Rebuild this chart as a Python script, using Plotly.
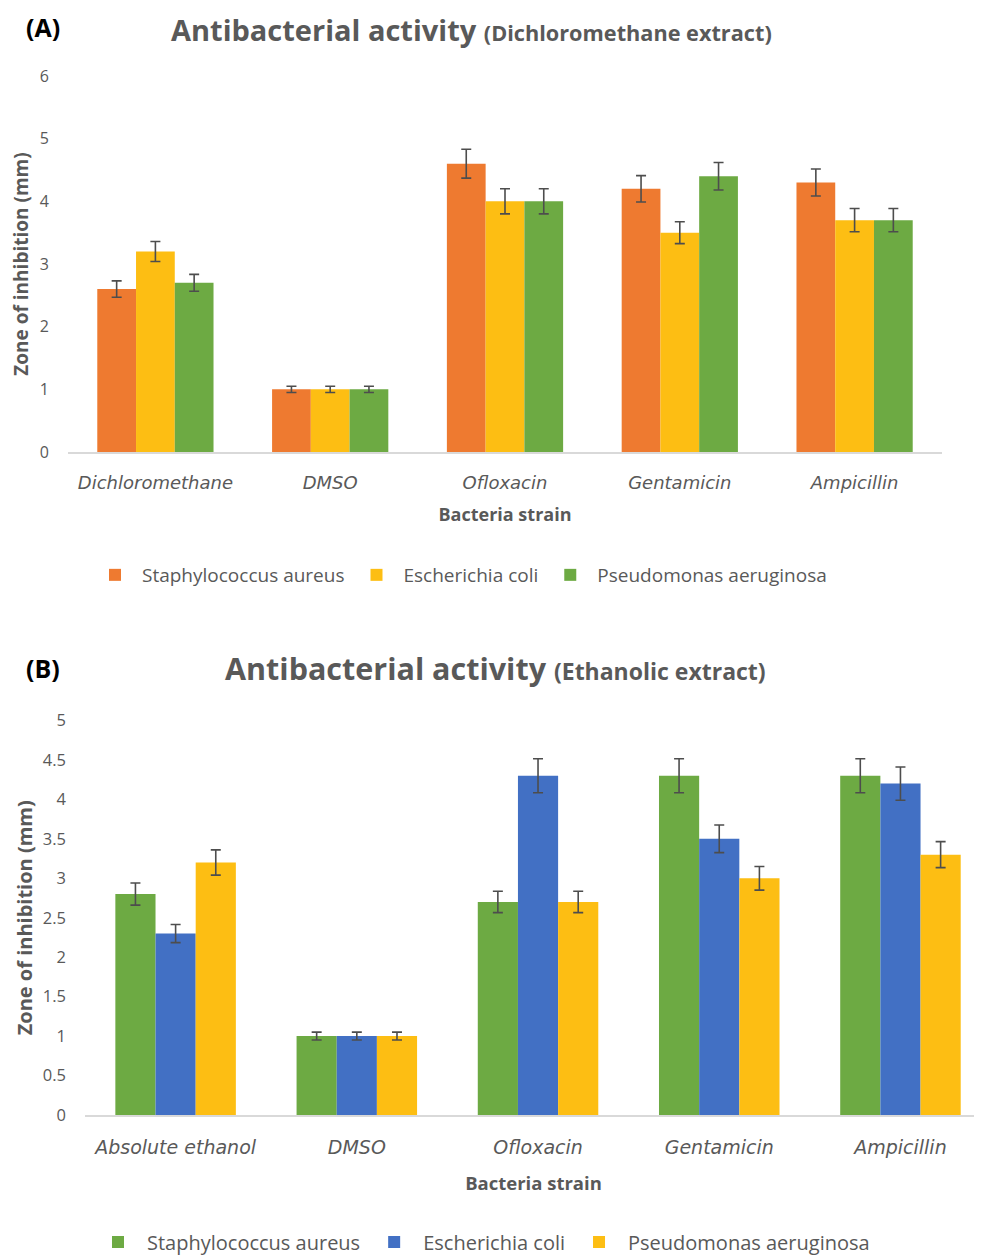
import plotly.graph_objects as go

# ---------------- data ----------------
series_names = ["Staphylococcus aureus", "Escherichia coli", "Pseudomonas aeruginosa"]

cats_a = ["Dichloromethane", "DMSO", "Ofloxacin", "Gentamicin", "Ampicillin"]
staph_a = [2.6, 1.0, 4.6, 4.2, 4.3]
ecoli_a = [3.2, 1.0, 4.0, 3.5, 3.7]
pseudo_a = [2.7, 1.0, 4.0, 4.4, 3.7]
staph_a_err = [0.13, 0.05, 0.23, 0.21, 0.215]
ecoli_a_err = [0.16, 0.05, 0.20, 0.175, 0.185]
pseudo_a_err = [0.135, 0.05, 0.20, 0.22, 0.185]

cats_b = ["Absolute ethanol", "DMSO", "Ofloxacin", "Gentamicin", "Ampicillin"]
staph_b = [2.8, 1.0, 2.7, 4.3, 4.3]
ecoli_b = [2.3, 1.0, 4.3, 3.5, 4.2]
pseudo_b = [3.2, 1.0, 2.7, 3.0, 3.3]
staph_b_err = [0.14, 0.05, 0.135, 0.215, 0.215]
ecoli_b_err = [0.115, 0.05, 0.215, 0.175, 0.21]
pseudo_b_err = [0.16, 0.05, 0.135, 0.15, 0.165]

ticks_a = [0, 1, 2, 3, 4, 5, 6]
ticks_b = [0, 0.5, 1, 1.5, 2, 2.5, 3, 3.5, 4, 4.5, 5]

# ---------------- styles ----------------
# the page body has an 8px margin, so the figure is drawn 8px in from the window corner
OFF = 8
W, H = 982 - OFF, 1256 - OFF
FONT = "'Open Sans', sans-serif"
CATFONT = "'DejaVu Sans', sans-serif"
GRAY = "#595959"
ORANGE = "#EE7A30"
YELLOW = "#FDBE13"
GREEN = "#6DAA43"
BLUE = "#4270C4"
ERR = "#4d4d4d"


def px_x(p):
    """window pixel -> paper fraction"""
    return (p - OFF) / W


def px_y(p):
    return 1 - (p - OFF) / H


fig = go.Figure()


def add_bar(x, y, err, name, color, xa, ya, legend):
    fig.add_trace(go.Bar(
        x=x, y=y, name=name, xaxis=xa, yaxis=ya, legend=legend,
        marker=dict(color=color, line=dict(width=0)),
        error_y=dict(type="data", array=err, visible=True, color=ERR,
                     thickness=1.6, width=5),
    ))


# Panel A: orange / yellow / green
add_bar(cats_a, staph_a, staph_a_err, series_names[0], ORANGE, "x", "y", "legend")
add_bar(cats_a, ecoli_a, ecoli_a_err, series_names[1], YELLOW, "x", "y", "legend")
add_bar(cats_a, pseudo_a, pseudo_a_err, series_names[2], GREEN, "x", "y", "legend")
# Panel B: green / blue / yellow
add_bar(cats_b, staph_b, staph_b_err, series_names[0], GREEN, "x2", "y2", "legend2")
add_bar(cats_b, ecoli_b, ecoli_b_err, series_names[1], BLUE, "x2", "y2", "legend2")
add_bar(cats_b, pseudo_b, pseudo_b_err, series_names[2], YELLOW, "x2", "y2", "legend2")


def xaxis_style(size, title_size, standoff):
    return dict(
        showgrid=False, zeroline=False, showline=True, linecolor="#d9d9d9", linewidth=1.5,
        ticks="", tickfont=dict(family=CATFONT, size=size, color=GRAY, style="italic"),
        ticklabelstandoff=14, fixedrange=True, automargin=False,
        title=dict(text="<b>Bacteria strain</b>", font=dict(family=FONT, size=title_size, color=GRAY),
                   standoff=standoff),
    )


def yaxis_style(size, title_size, standoff):
    return dict(
        showgrid=False, zeroline=False, showline=False, ticks="",
        tickfont=dict(family=FONT, size=size, color=GRAY), ticklabelstandoff=18,
        title=dict(text="<b>Zone of inhibition (mm)</b>", font=dict(family=FONT, size=title_size, color=GRAY),
                   standoff=standoff),
        fixedrange=True, automargin=False,
    )


fig.update_layout(
    width=W, height=H,
    margin=dict(l=0, r=0, t=0, b=0, autoexpand=False),
    paper_bgcolor="white", plot_bgcolor="white",
    barmode="group",
    bargap=0.335, bargroupgap=0,
    showlegend=True,
    font=dict(family=FONT, color=GRAY),
    xaxis=dict(xaxis_style(18, 18, 16), domain=[px_x(68), px_x(942)], anchor="y", range=[-0.5, 4.5]),
    yaxis=dict(yaxis_style(16, 19, 10), domain=[px_y(452), px_y(76)], anchor="x", range=[0, 6],
               tickvals=ticks_a, ticktext=[str(t) for t in ticks_a]),
    xaxis2=dict(xaxis_style(19, 18.5, 21), domain=[px_x(85), 1.0], anchor="y2", range=[-0.5, 4.45]),
    yaxis2=dict(yaxis_style(16.5, 20, 4), domain=[px_y(1115), px_y(720.5)], anchor="x2", range=[0, 5],
                tickvals=ticks_b, ticktext=[("%g" % t) for t in ticks_b]),
    legend=dict(orientation="h", x=px_x(88), xanchor="left", y=px_y(575), yanchor="middle",
                font=dict(family=FONT, size=19, color=GRAY), bgcolor="rgba(0,0,0,0)",
                itemwidth=44,
                traceorder="normal", itemclick=False, itemdoubleclick=False),
    legend2=dict(orientation="h", x=px_x(89), xanchor="left", y=px_y(1242), yanchor="middle",
                 font=dict(family=FONT, size=20, color=GRAY), bgcolor="rgba(0,0,0,0)",
                 itemwidth=48,
                 traceorder="normal", itemclick=False, itemdoubleclick=False),
    annotations=[
        dict(text="<b>(A)</b>", x=px_x(24), y=px_y(27), xref="paper", yref="paper",
             xanchor="left", yanchor="middle", showarrow=False,
             font=dict(family=FONT, size=25, color="black")),
        dict(text="<b>Antibacterial activity</b> <b><span style='font-size:21.7px'>(Dichloromethane extract)</span></b>",
             x=px_x(471.5), y=px_y(29), xref="paper", yref="paper",
             xanchor="center", yanchor="middle", showarrow=False,
             font=dict(family=FONT, size=29, color=GRAY)),
        dict(text="<b>(B)</b>", x=px_x(24), y=px_y(668), xref="paper", yref="paper",
             xanchor="left", yanchor="middle", showarrow=False,
             font=dict(family=FONT, size=25, color="black")),
        dict(text="<b>Antibacterial activity</b> <b><span style='font-size:23px'>(Ethanolic extract)</span></b>",
             x=px_x(495.5), y=px_y(668), xref="paper", yref="paper",
             xanchor="center", yanchor="middle", showarrow=False,
             font=dict(family=FONT, size=30.5, color=GRAY)),
    ],
)

fig.write_html("out.html")
